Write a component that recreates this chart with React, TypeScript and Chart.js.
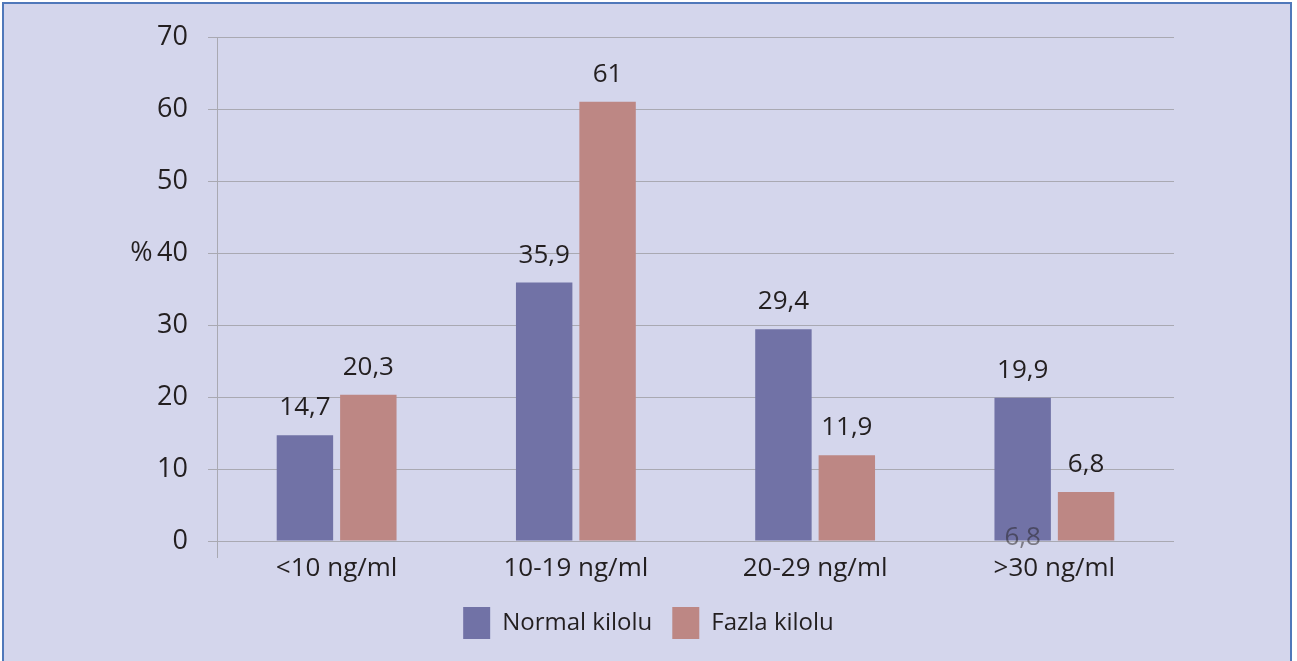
import React, { useEffect, useRef } from "react";
import { Chart, registerables } from "chart.js";

Chart.register(...registerables);

const categories = ["<10 ng/ml", "10-19 ng/ml", "20-29 ng/ml", ">30 ng/ml"];
const seriesNames = ["Normal kilolu", "Fazla kilolu"];
const normalValues = [14.7, 35.9, 29.4, 19.9];
const overweightValues = [20.3, 61, 11.9, 6.8];
const yMin = 0;
const yMax = 70;
const yStep = 10;
const yUnitTick = 40;
const yUnit = "%";
// stray value label that appears at the base of the last "Normal kilolu" bar
const strayLabelText = "6,8";
const strayLabelDataset = 0;
const strayLabelIndex = 3;
const strayLabelValue = 0;

const FONT = "'Open Sans', 'DejaVu Sans', sans-serif";
const TEXT = "#231f20";
const GRID = "#a9a9b2";
const BLUE = "#7172a6";
const PINK = "#bd8784";

const fmt = (v: number) => String(v).replace(".", ",");

const valueLabels = {
  id: "valueLabels",
  afterDatasetsDraw(chart: any) {
    const ctx = chart.ctx;
    ctx.save();
    ctx.font = `26px ${FONT}`;
    ctx.textAlign = "center";
    ctx.fillStyle = TEXT;
    ctx.textBaseline = "alphabetic";
    chart.data.datasets.forEach((ds: any, di: number) => {
      chart.getDatasetMeta(di).data.forEach((bar: any, i: number) => {
        ctx.fillText(fmt(ds.data[i]), bar.x, bar.y - 20);
      });
    });
    const b = chart.getDatasetMeta(strayLabelDataset).data[strayLabelIndex];
    ctx.fillStyle = "rgba(35,31,32,0.5)";
    ctx.textBaseline = "middle";
    ctx.fillText(strayLabelText, b.x, chart.scales.y.getPixelForValue(strayLabelValue) - 3);
    // y-axis line extending below zero
    const left = chart.chartArea.left;
    const bottom = chart.chartArea.bottom;
    ctx.strokeStyle = GRID;
    ctx.lineWidth = 1;
    ctx.beginPath();
    ctx.moveTo(left + 0.5, bottom);
    ctx.lineTo(left + 0.5, bottom + 17);
    ctx.stroke();
    ctx.restore();
  },
};

export default function App() {
  const ref = useRef<HTMLCanvasElement | null>(null);
  useEffect(() => {
    if (!ref.current) return;
    const chart = new Chart(ref.current, {
      type: "bar",
      data: {
        labels: categories,
        datasets: [
          {
            label: seriesNames[0],
            data: normalValues,
            backgroundColor: BLUE,
            borderWidth: 0,
            barPercentage: 0.89,
            categoryPercentage: 0.53,
          },
          {
            label: seriesNames[1],
            data: overweightValues,
            backgroundColor: PINK,
            borderWidth: 0,
            barPercentage: 0.89,
            categoryPercentage: 0.53,
          },
        ],
      },
      options: {
        responsive: false,
        animation: false,
        devicePixelRatio: 1,
        layout: { padding: { left: 0, right: 0, top: 37, bottom: 12 } },
        plugins: {
          legend: {
            position: "bottom",
            labels: {
              font: { family: FONT, size: 24 },
              color: TEXT,
              boxWidth: 27,
              boxHeight: 32,
              padding: 20,
            },
          },
          tooltip: { enabled: false },
        },
        scales: {
          x: {
            grid: { display: false, drawTicks: false },
            border: { display: false },
            ticks: { font: { family: FONT, size: 26 }, color: TEXT, padding: 12 },
            afterFit: (s: any) => {
              s.height = 46;
            },
          },
          y: {
            min: yMin,
            max: yMax,
            grid: { color: GRID, lineWidth: 1, tickLength: 9, drawTicks: true },
            border: { display: true, color: GRID, width: 1 },
            ticks: {
              stepSize: yStep,
              font: { family: FONT, size: 27 },
              color: TEXT,
              padding: 20,
              callback: (v: any) => (v === yUnitTick ? `${yUnit}\u2009${v}` : `${v}`),
            },
            afterFit: (s: any) => {
              s.width = 217;
            },
          },
          yRight: {
            position: "right",
            min: yMin,
            max: yMax,
            grid: { display: false, drawTicks: false },
            border: { display: false },
            ticks: { display: false },
            afterFit: (s: any) => {
              s.width = 123;
            },
          },
        },
      },
      plugins: [valueLabels],
    } as any);
    return () => chart.destroy();
  }, []);

  return (
    <div style={{ position: "fixed", left: 0, top: 0, width: 1297, height: 661, background: "#ffffff", overflow: "hidden" }}>
      <div
        style={{
          position: "absolute",
          left: 2,
          top: 2,
          width: 1290,
          height: 720,
          border: "2px solid #4f78ba",
          background: "#d4d6ec",
          boxSizing: "border-box",
        }}
      />
      <canvas ref={ref} width={1297} height={661} style={{ position: "absolute", left: 0, top: 0, width: 1297, height: 661 }} />
    </div>
  );
}
